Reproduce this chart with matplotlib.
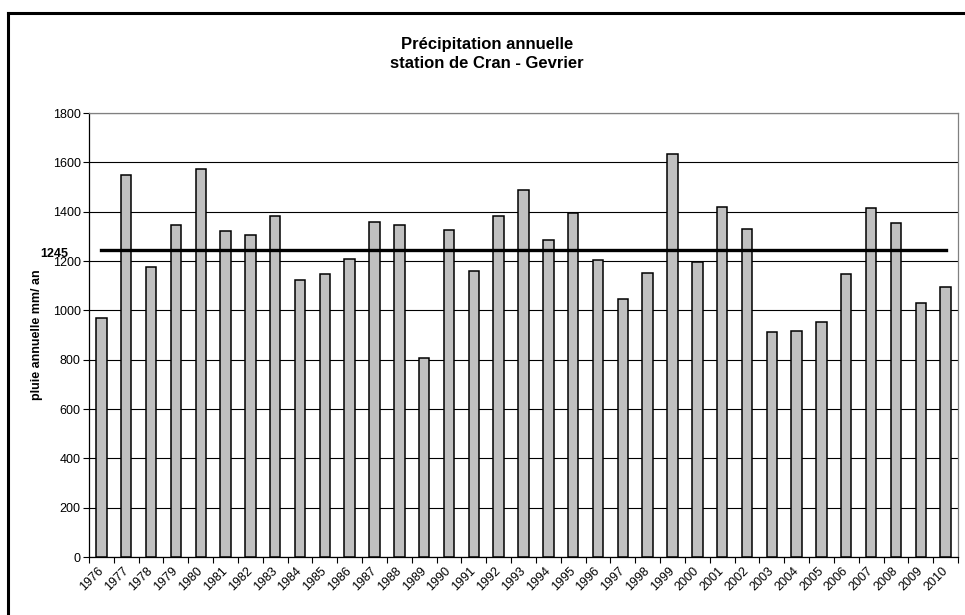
#!/usr/bin/env python3
import matplotlib
matplotlib.use("Agg")
import matplotlib.pyplot as plt
from matplotlib.lines import Line2D

years = list(range(1976, 2011))
rain_mm = [968, 1550, 1176, 1345, 1573, 1323, 1306, 1384, 1124, 1148,
           1209, 1359, 1346, 806, 1325, 1161, 1384, 1489, 1284, 1396,
           1205, 1045, 1151, 1635, 1196, 1420, 1331, 911, 917, 953,
           1148, 1413, 1355, 1031, 1093]
mean_mm = 1245
y_ticks = list(range(0, 2000, 200))

title = "Précipitation annuelle\nstation de Cran - Gevrier"
y_label = "pluie annuelle mm/ an"

plt.rcParams["font.family"] = ["Liberation Sans", "DejaVu Sans"]

W, H = 965, 615
fig = plt.figure(figsize=(W / 100, H / 100), dpi=100)
fig.patch.set_facecolor("white")

left, right, top, bottom = 89, 958, 113, 557
ax = fig.add_axes([left / W, 1 - bottom / H, (right - left) / W, (bottom - top) / H])

n = len(years)
pos = list(range(n))
ax.bar(pos, rain_mm, width=0.42, color="#c0c0c0", edgecolor="black",
       linewidth=1.1, zorder=3)
ax.plot(pos, [mean_mm] * n, color="black", linewidth=2.4, zorder=4)

ax.set_xlim(-0.5, n - 0.5)
ax.set_ylim(0, 1800)
ax.set_yticks(y_ticks)
ax.set_yticklabels([str(v) for v in y_ticks], fontsize=9)
ax.yaxis.grid(True, color="black", linewidth=0.8, zorder=1)
ax.set_axisbelow(True)

# category boundaries get the tick marks, centres get the year labels
ax.set_xticks([p - 0.5 for p in pos] + [n - 0.5])
ax.set_xticklabels([])
ax.set_xticks(pos, minor=True)
ax.set_xticklabels([str(y) for y in years], minor=True, rotation=45,
                   ha="right", va="center", rotation_mode="anchor", fontsize=9)
ax.tick_params(axis="x", which="minor", length=0, pad=9)
ax.tick_params(axis="x", which="major", direction="out", length=4, width=0.8)
ax.tick_params(axis="y", direction="out", length=4, width=0.8, pad=2)

for side in ("left", "bottom"):
    ax.spines[side].set_color("black")
    ax.spines[side].set_linewidth(0.9)
for side in ("top", "right"):
    ax.spines[side].set_color("#808080")
    ax.spines[side].set_linewidth(0.9)

ax.set_ylabel(y_label, fontsize=9, fontweight="bold", labelpad=7)

ax.annotate(str(mean_mm), xy=(0, mean_mm), xycoords=("axes fraction", "data"),
            xytext=(-21, 2), textcoords="offset pixels", ha="right", va="top",
            fontsize=9, fontweight="bold")

fig.text(487 / W, 1 - 54 / H, title, ha="center", va="center",
         fontsize=12, fontweight="bold", linespacing=1.25)

# outer chart frame (left and top edges only are visible)
fx, fy = 8 / W, 1 - 13 / H
fig.add_artist(Line2D([fx, fx], [0, fy], transform=fig.transFigure,
                      color="black", linewidth=2.2, solid_capstyle="projecting"))
fig.add_artist(Line2D([fx, 1], [fy, fy], transform=fig.transFigure,
                      color="black", linewidth=2.2, solid_capstyle="projecting"))

fig.savefig("out.png", dpi=100)
